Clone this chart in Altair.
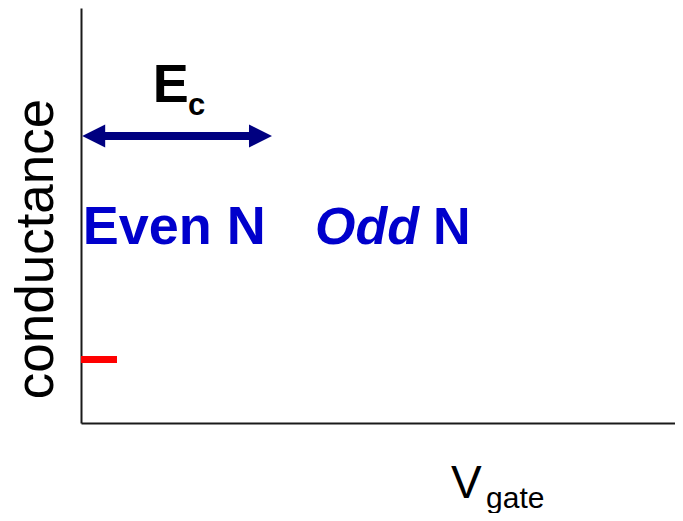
import altair as alt
import pandas as pd

FONT = "Liberation Sans, Arial, Helvetica, sans-serif"

# Schematic coordinates (arbitrary units): gate voltage on x, conductance on y
x_domain = [0.0, 10.0]
y_domain = [0.0, 10.0]

# Charging energy arrow
ec_x = [0.02]
ec_x2 = [3.215]
ec_y = [6.916]

# Red conductance level near the axis
level_x = [0.0]
level_x2 = [0.606]
level_y = [1.53]

# Text labels
even_text = ["Even N"]
even_x = [0.03]
even_y = [4.313]

odd_text = ["Odd"]
odd_x = [3.94]
odd_y = [4.313]

n_text = ["N"]
n_x = [5.926]
n_y = [4.313]

ec_label = ["E"]
ec_label_x = [1.21]
ec_label_y = [7.735]
ec_sub = ["c"]
ec_sub_x = [1.80]
ec_sub_y = [7.42]

ylab_text = ["conductance"]
ylab_x = [-0.471]
ylab_y = [4.193]

xlab_text = ["V"]
xlab_x = [6.23]
xlab_y = [-1.807]
xsub_text = ["gate"]
xsub_x = [6.82]
xsub_y = [-2.048]

W, H = 594, 415

xs = alt.Scale(domain=x_domain, nice=False, zero=False)
ys = alt.Scale(domain=y_domain, nice=False, zero=False)

AX = alt.Axis(labels=False, ticks=False, grid=False, title=None,
              domainColor="#1a1a1a", domainWidth=2)


def X(field="x"):
    return alt.X(f"{field}:Q", scale=xs, axis=AX)


def Y(field="y"):
    return alt.Y(f"{field}:Q", scale=ys, axis=AX)


# axes frame (domain lines only)
axes = alt.Chart(pd.DataFrame({"x": x_domain, "y": y_domain})).mark_point(opacity=0).encode(
    x=X("x"), y=Y("y")
)

ec_df = pd.DataFrame({"x": ec_x, "x2": ec_x2, "y": ec_y})
shaft = alt.Chart(ec_df).mark_rule(color="#000080", strokeWidth=8, xOffset=15, x2Offset=-15).encode(
    x=X("x"), x2="x2:Q", y=Y("y")
)
head_left = alt.Chart(ec_df).mark_point(
    shape="M0,0L2,-1L2,1Z", filled=True, color="#000080", opacity=1, size=529, strokeWidth=0
).encode(x=X("x"), y=Y("y"))
head_right = alt.Chart(ec_df).mark_point(
    shape="M0,0L-2,-1L-2,1Z", filled=True, color="#000080", opacity=1, size=529, strokeWidth=0
).encode(x=X("x2"), y=Y("y"))

level_df = pd.DataFrame({"x": level_x, "x2": level_x2, "y": level_y})
level = alt.Chart(level_df).mark_rule(color="#ff0000", strokeWidth=7).encode(
    x=X("x"), x2="x2:Q", y=Y("y")
)


def text_layer(texts, xv, yv, **kw):
    df = pd.DataFrame({"t": texts, "x": xv, "y": yv})
    props = dict(font=FONT, align="left", baseline="alphabetic")
    props.update(kw)
    return alt.Chart(df).mark_text(**props).encode(x=X("x"), y=Y("y"), text="t:N")


even = text_layer(even_text, even_x, even_y, fontSize=54, fontWeight="bold", color="#0000cc")
odd = text_layer(odd_text, odd_x, odd_y, fontSize=52, fontWeight="bold", fontStyle="italic", color="#0000cc")
nn = text_layer(n_text, n_x, n_y, fontSize=52, fontWeight="bold", color="#0000cc")
ec_t = text_layer(ec_label, ec_label_x, ec_label_y, fontSize=54, fontWeight="bold", color="black")
ec_s = text_layer(ec_sub, ec_sub_x, ec_sub_y, fontSize=31, fontWeight="bold", color="black")
ylab = text_layer(ylab_text, ylab_x, ylab_y, fontSize=53, angle=270, align="center", color="black")
xlab = text_layer(xlab_text, xlab_x, xlab_y, fontSize=46, color="black")
xsub = text_layer(xsub_text, xsub_x, xsub_y, fontSize=30, color="black")

chart = alt.layer(
    axes, shaft, head_left, head_right, level, even, odd, nn, ec_t, ec_s, ylab, xlab, xsub
).properties(
    width=W,
    height=H,
    autosize=alt.AutoSizeParams(type="none"),
    padding={"left": 73, "top": 0, "right": 0, "bottom": 90},
    background="white",
).configure_view(stroke=None)

chart.save("out.html", embed_options={"renderer": "svg", "actions": False})
